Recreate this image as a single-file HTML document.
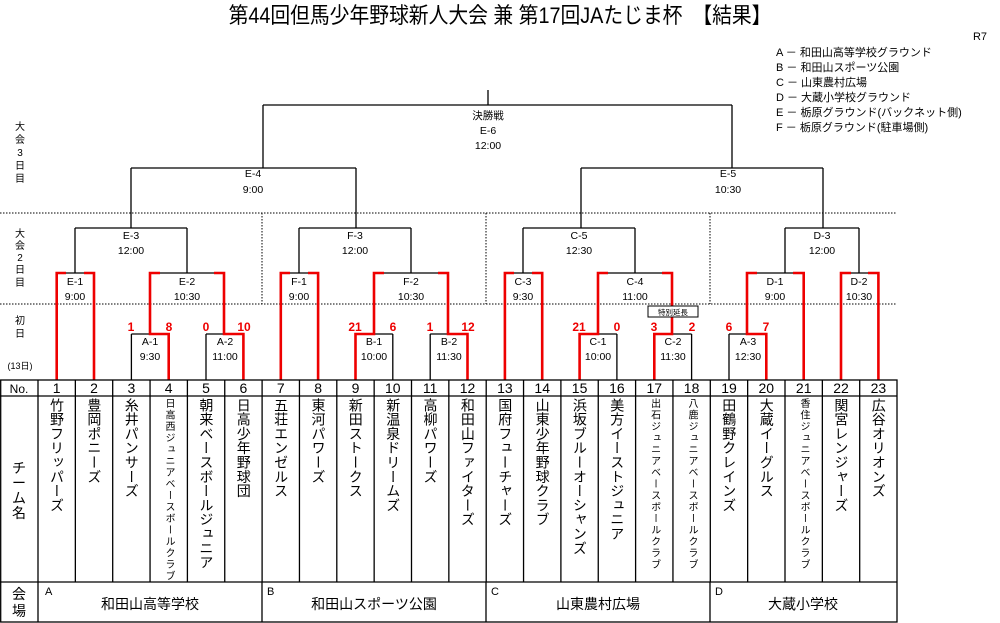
<!DOCTYPE html>
<html><head><meta charset="utf-8"><style>
html,body{margin:0;padding:0;background:#fff;}
body{width:1000px;height:623px;position:relative;overflow:hidden;font-family:"Liberation Sans","Noto Sans CJK JP",sans-serif;}
svg{position:absolute;left:0;top:0;}
.v{position:absolute;top:398px;writing-mode:vertical-rl;text-orientation:upright;font-size:14px;line-height:37px;width:37px;letter-spacing:0.3px;color:#000;}
.s{font-size:10px;letter-spacing:1.5px;}
</style></head><body>
<svg width="1000" height="623" font-family="Liberation Sans, Noto Sans CJK JP, sans-serif">
<text x="500" y="23" font-size="22" text-anchor="middle" transform="translate(500,0) scale(0.9,1) translate(-500,0)">第44回但馬少年野球新人大会 兼 第17回JAたじま杯　【結果】</text>
<text x="980" y="40" font-size="11" text-anchor="middle">R7</text>
<g font-size="11">
<text x="776" y="56">A － 和田山高等学校グラウンド</text>
<text x="776" y="71">B － 和田山スポーツ公園</text>
<text x="776" y="86">C － 山東農村広場</text>
<text x="776" y="101">D － 大蔵小学校グラウンド</text>
<text x="776" y="116">E － 栃原グラウンド(バックネット側)</text>
<text x="776" y="131">F － 栃原グラウンド(駐車場側)</text>
</g>
<g font-size="10" text-anchor="middle">
<text x="20" y="130">大</text><text x="20" y="143">会</text><text x="20" y="156">3</text><text x="20" y="169">日</text><text x="20" y="182">目</text>
<text x="20" y="237">大</text><text x="20" y="249">会</text><text x="20" y="261">2</text><text x="20" y="273">日</text><text x="20" y="286">目</text>
<text x="20" y="324">初</text><text x="20" y="337">日</text>
<text x="20" y="369" font-size="9">(13日)</text>
</g>
<g stroke="#000" stroke-width="1" stroke-dasharray="1.5,1.5" fill="none">
<path d="M0,213H897M0,304H897M262,213V304M486,213V304M710,213V304"/>
</g>
<g stroke="#000" stroke-width="1.3" fill="none">
<path d="M488,90V105M263,105H732M263,105V168M732,105V168"/>
<path d="M131,168H356M131,168V228M356,168V228M581,168H823M581,168V228M823,168V228"/>
<path d="M75,228H187M75,228V273M187,228V273M299,228H411M299,228V273M411,228V273"/>
<path d="M523,228H635M523,228V273M635,228V273M785,228H859M785,228V273M859,228V273"/>
<path d="M56.7,273H94M150,273H224M280.8,273H318.1M374,273H448M504.9,273H542.2M598,273H672M747,273H803.7M841,273H878.4"/>
<path d="M131.4,334H168.7M131.4,334V380M206,334H243.4M206,334V380M355.5,334H392.8M392.8,334V380M430.2,334H467.5M430.2,334V380M579.6,334H616.9M616.9,334V380M654.3,334H691.6M691.6,334V380M729,334H766.3M729,334V380"/>
</g>
<g stroke="#e00" stroke-width="2.6" fill="none" stroke-linejoin="miter">
<path d="M66,273H56.7V380M84,273H94V380"/>
<path d="M290,273H280.8V380M308,273H318.1V380"/>
<path d="M514,273H504.9V380M532,273H542.2V380"/>
<path d="M851,273H841V380M868,273H878.4V380"/>
<path d="M793,273H803.7V380"/>
<path d="M160,273H150V334H168.7V380"/>
<path d="M214,273H224V334H243.4V380"/>
<path d="M384,273H374V334H355.5V380"/>
<path d="M438,273H448V334H467.5V380"/>
<path d="M608,273H598V334H579.6V380"/>
<path d="M662,273H672V334H654.3V380"/>
<path d="M757,273H747V334H766.3V380"/>
</g>
<rect x="648" y="306" width="50" height="11" fill="#fff" stroke="#000" stroke-width="1"/>
<text x="673" y="315" font-size="7.5" text-anchor="middle">特別延長</text>
<g font-size="10.5" text-anchor="middle">
<text x="488" y="119">決勝戦</text><text x="488" y="134">E-6</text><text x="488" y="149">12:00</text>
<text x="253" y="177">E-4</text><text x="253" y="193">9:00</text>
<text x="728" y="177">E-5</text><text x="728" y="193">10:30</text>
<text x="131" y="239">E-3</text><text x="131" y="254">12:00</text>
<text x="355" y="239">F-3</text><text x="355" y="254">12:00</text>
<text x="579" y="239">C-5</text><text x="579" y="254">12:30</text>
<text x="822" y="239">D-3</text><text x="822" y="254">12:00</text>
<text x="75" y="285">E-1</text><text x="75" y="300">9:00</text>
<text x="187" y="285">E-2</text><text x="187" y="300">10:30</text>
<text x="299" y="285">F-1</text><text x="299" y="300">9:00</text>
<text x="411" y="285">F-2</text><text x="411" y="300">10:30</text>
<text x="523" y="285">C-3</text><text x="523" y="300">9:30</text>
<text x="635" y="285">C-4</text><text x="635" y="300">11:00</text>
<text x="775" y="285">D-1</text><text x="775" y="300">9:00</text>
<text x="859" y="285">D-2</text><text x="859" y="300">10:30</text>
<text x="150" y="345">A-1</text><text x="150" y="360">9:30</text>
<text x="225" y="345">A-2</text><text x="225" y="360">11:00</text>
<text x="374" y="345">B-1</text><text x="374" y="360">10:00</text>
<text x="449" y="345">B-2</text><text x="449" y="360">11:30</text>
<text x="598" y="345">C-1</text><text x="598" y="360">10:00</text>
<text x="673" y="345">C-2</text><text x="673" y="360">11:30</text>
<text x="748" y="345">A-3</text><text x="748" y="360">12:30</text>
</g>
<g font-size="12" font-weight="bold" fill="#e00" text-anchor="middle">
<text x="131" y="331">1</text><text x="169" y="331">8</text>
<text x="206" y="331">0</text><text x="244" y="331">10</text>
<text x="355" y="331">21</text><text x="393" y="331">6</text>
<text x="430" y="331">1</text><text x="468" y="331">12</text>
<text x="579" y="331">21</text><text x="617" y="331">0</text>
<text x="654" y="331">3</text><text x="692" y="331">2</text>
<text x="729" y="331">6</text><text x="766" y="331">7</text>
</g>
<g stroke="#000" stroke-width="1.3" fill="none">
<rect x="0.7" y="380" width="896.3" height="242"/>
<path d="M0,396H897M0,582H897M38,380V622M262,582V622M486,582V622M710,582V622"/>
<path d="M75.35,380V582M112.7,380V582M150.05,380V582M187.4,380V582M224.75,380V582M262.1,380V582M299.45,380V582M336.8,380V582M374.15,380V582M411.5,380V582M448.85,380V582M486.2,380V582M523.55,380V582M560.9,380V582M598.25,380V582M635.6,380V582M672.95,380V582M710.3,380V582M747.65,380V582M785,380V582M822.35,380V582M859.7,380V582"/>
</g>
<g font-size="14" text-anchor="middle">
<text x="19" y="393" font-size="12">No.</text>
<text x="56.7" y="393">1</text><text x="94" y="393">2</text><text x="131.4" y="393">3</text><text x="168.7" y="393">4</text><text x="206" y="393">5</text><text x="243.4" y="393">6</text><text x="280.8" y="393">7</text><text x="318.1" y="393">8</text><text x="355.5" y="393">9</text><text x="392.8" y="393">10</text><text x="430.2" y="393">11</text><text x="467.5" y="393">12</text><text x="504.9" y="393">13</text><text x="542.2" y="393">14</text><text x="579.6" y="393">15</text><text x="616.9" y="393">16</text><text x="654.3" y="393">17</text><text x="691.6" y="393">18</text><text x="729" y="393">19</text><text x="766.3" y="393">20</text><text x="803.7" y="393">21</text><text x="841" y="393">22</text><text x="878.4" y="393">23</text>
<text x="19" y="473">チ</text><text x="19" y="488">ー</text><text x="19" y="503">ム</text><text x="19" y="518">名</text>
<text x="19" y="599">会</text><text x="19" y="616">場</text>
<text x="150" y="609">和田山高等学校</text>
<text x="374" y="609">和田山スポーツ公園</text>
<text x="598" y="609">山東農村広場</text>
<text x="803" y="609">大蔵小学校</text>
</g>
<g font-size="11">
<text x="45" y="595">A</text><text x="267" y="595">B</text><text x="491" y="595">C</text><text x="715" y="595">D</text>
</g>
</svg>
<div class="v" style="left:38px">竹野フリッパーズ</div>
<div class="v" style="left:75.4px">豊岡ポニーズ</div>
<div class="v" style="left:112.7px">糸井パンサーズ</div>
<div class="v s" style="left:150px">日高西ジュニアベースボールクラブ</div>
<div class="v" style="left:187.4px">朝来ベースボールジュニア</div>
<div class="v" style="left:224.8px">日高少年野球団</div>
<div class="v" style="left:262.1px">五荘エンゼルス</div>
<div class="v" style="left:299.5px">東河パワーズ</div>
<div class="v" style="left:336.8px">新田ストークス</div>
<div class="v" style="left:374.2px">新温泉ドリームズ</div>
<div class="v" style="left:411.5px">高柳パワーズ</div>
<div class="v" style="left:448.9px">和田山ファイターズ</div>
<div class="v" style="left:486.2px">国府フューチャーズ</div>
<div class="v" style="left:523.6px">山東少年野球クラブ</div>
<div class="v" style="left:560.9px">浜坂ブルーオーシャンズ</div>
<div class="v" style="left:598.3px">美方イーストジュニア</div>
<div class="v s" style="left:635.6px">出石ジュニアベースボールクラブ</div>
<div class="v s" style="left:673px">八鹿ジュニアベースボールクラブ</div>
<div class="v" style="left:710.3px">田鶴野クレインズ</div>
<div class="v" style="left:747.7px">大蔵イーグルス</div>
<div class="v s" style="left:785px">香住ジュニアベースボールクラブ</div>
<div class="v" style="left:822.4px">関宮レンジャーズ</div>
<div class="v" style="left:859.7px">広谷オリオンズ</div>
</body></html>
